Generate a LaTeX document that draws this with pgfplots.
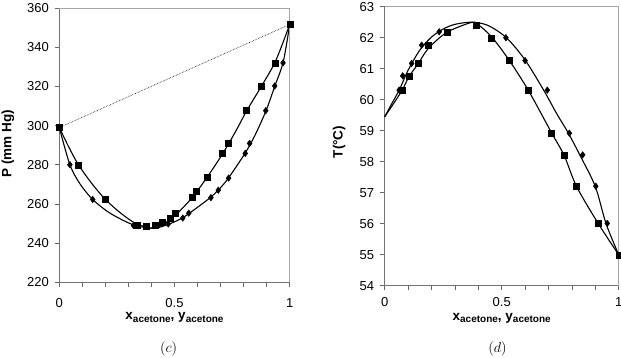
\documentclass[border=0pt]{standalone}
\usepackage{pgfplots}
\pgfplotsset{compat=1.18}
\usepackage{fontspec}
\setmainfont{Liberation Sans}
\newcommand{\sub}[1]{\raisebox{-2.6pt}{\fontsize{10}{10}\selectfont #1}}
\pgfplotsset{
  common/.style={
    scale only axis, anchor=south west, clip=false,
    xmin=0, xmax=1,
    xtick={0,0.1,0.2,0.3,0.4,0.5,0.6,0.7,0.8,0.9,1},
    xticklabels={0,,,,,0.5,,,,,1},
    axis x line*=bottom, axis y line*=left,
    axis line style={-, draw=black!55, line width=0.7pt},
    tick style={draw=black!60, line width=0.7pt},
    tick align=outside, major tick length=4.5pt,
    /pgf/number format/assume math mode=true,
    ticklabel style={font=\fontsize{13}{13}\selectfont},
    yticklabel style={xshift=-2.5pt},
    label style={font=\bfseries\fontsize{13.5}{15}\selectfont},
    xlabel={x\sub{acetone}, y\sub{acetone}},
  },
  curve/.style={black, line width=1.1pt, smooth, mark=none},
  sq/.style={only marks, mark=square*, mark size=3pt, black},
  di/.style={only marks, mark=diamond*, mark size=3.3pt, black},
}
\begin{document}
\begin{tikzpicture}
\path[use as bounding box] (0,0) rectangle (621pt,357pt);
% ---------------- (c) ----------------
\begin{axis}[common, at={(59.3pt,74.7pt)}, width=230.4pt, height=274.3pt,
  ymin=220, ymax=360, ytick={220,240,260,280,300,320,340,360},
  xticklabel style={yshift=-8pt},
  ylabel={P (mm Hg)},
  ylabel style={at={(axis description cs:-0.223,0.506)}, anchor=center},
  xlabel style={at={(axis description cs:0.5,-0.137)}, anchor=base}]
\addplot[black, densely dotted, line width=0.6pt] coordinates {(0,299) (1,351.6)};
\addplot[curve] table {
x y
0 299
0.04 289.3
0.083 280
0.14 270.6
0.2 262.3
0.27 255
0.336 249.8
0.41 247.6
0.45 249.6
0.5 253.8
0.575 263
0.64 273.4
0.709 285.6
0.77 298
0.813 307.5
0.878 320.2
0.939 333
1 351.6
};
\addplot[curve] table {
x y
0 299
0.046 280
0.09 270.2
0.145 262.3
0.22 255.3
0.322 249.3
0.41 247.6
0.473 249.6
0.535 252.9
0.6 258.3
0.658 263.5
0.7 268.3
0.735 273.4
0.806 285.8
0.85 295.2
0.897 307.5
0.935 320
0.972 332.5
1 351.6
};
\addplot[sq] table {
x y
0 299
0.083 280
0.2 262.3
0.336 249
0.379 248.5
0.415 249
0.445 250.7
0.48 252.6
0.502 255.3
0.575 263.2
0.596 266.7
0.64 273.4
0.709 285.8
0.734 290.9
0.813 307.6
0.878 320.2
0.938 332
1 351.6
};
\addplot[di] table {
x y
0.046 280
0.145 262.3
0.322 249
0.473 249.8
0.536 252.8
0.562 255.3
0.658 263.2
0.69 267
0.735 273.2
0.807 285.8
0.826 290.9
0.896 307.6
0.935 320.2
0.971 332
};
\draw[black!35, line width=0.7pt] (rel axis cs:0,1) -- (rel axis cs:1,1) -- (rel axis cs:1,0);
\end{axis}
% ---------------- (d) ----------------
\begin{axis}[common, at={(384.7pt,71.3pt)}, width=234pt, height=279pt,
  ymin=54, ymax=63, ytick={54,55,56,57,58,59,60,61,62,63},
  xticklabel style={yshift=-4pt},
  ylabel={T(°C)},
  ylabel style={at={(axis description cs:-0.195,0.515)}, anchor=center},
  xlabel style={at={(axis description cs:0.5,-0.123)}, anchor=base}]
\addplot[curve] table {
x y
0 59.45
0.03 59.87
0.062 60.31
0.1 60.95
0.15 61.6
0.2 62.02
0.25 62.28
0.3 62.43
0.37 62.5
0.44 62.4
0.52 62.0
0.6 61.28
0.68 60.3
0.735 59.55
0.785 58.92
0.835 58.2
0.9 57.2
0.946 56.0
1 55
};
\addplot[curve] table {
x y
0 59.45
0.04 59.9
0.075 60.31
0.105 60.76
0.144 61.17
0.186 61.65
0.265 62.17
0.37 62.49
0.40 62.42
0.46 62.0
0.533 61.26
0.614 60.3
0.714 58.92
0.767 58.2
0.82 57.2
0.913 56.0
1 55
};
\addplot[sq] table {
x y
0.075 60.31
0.105 60.76
0.144 61.17
0.186 61.76
0.265 62.19
0.393 62.41
0.457 62.0
0.533 61.26
0.615 60.31
0.712 58.92
0.768 58.22
0.818 57.21
0.913 56.01
1 55
};
\addplot[di] table {
x y
0.062 60.31
0.077 60.77
0.115 61.17
0.158 61.76
0.233 62.19
0.518 62.0
0.6 61.26
0.695 60.31
0.789 58.92
0.846 58.22
0.902 57.21
0.951 56.01
};
\draw[black!35, line width=0.7pt] (rel axis cs:0,1) -- (rel axis cs:1,1) -- (rel axis cs:1,0);
\end{axis}
\node at (168.7pt,8pt) {\fontsize{14}{14}\selectfont$(c)$};
\node at (497.5pt,8pt) {\fontsize{14}{14}\selectfont$(d)$};
\end{tikzpicture}
\end{document}
